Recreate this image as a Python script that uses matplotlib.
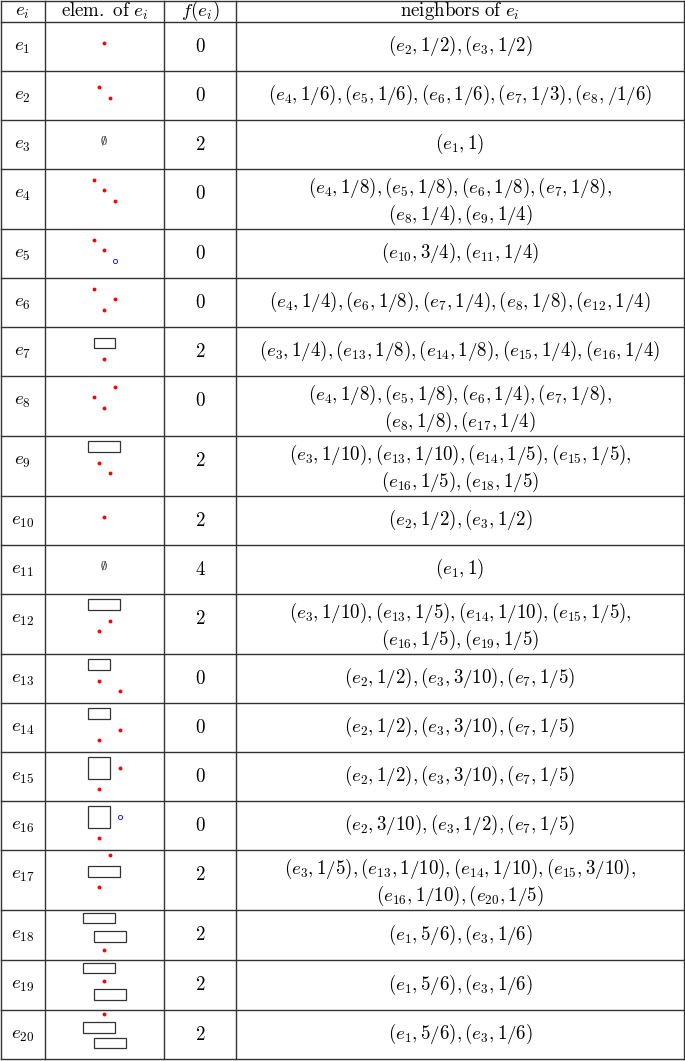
import numpy as np
import matplotlib
matplotlib.use("Agg")
import matplotlib.pyplot as plt
import matplotlib.patches as patches

plt.rcParams['mathtext.fontset'] = 'cm'

# f(e_i) per row
f_values = [0, 0, 2, 0, 0, 0, 2, 0, 2, 2, 4, 2, 0, 0, 0, 0, 2, 2, 2, 2]

# neighbors: (index, weight) pairs, weights kept as printed
neighbors = [
    [(2, '1/2'), (3, '1/2')],
    [(4, '1/6'), (5, '1/6'), (6, '1/6'), (7, '1/3'), (8, '/1/6')],
    [(1, '1')],
    [(4, '1/8'), (5, '1/8'), (6, '1/8'), (7, '1/8'), (8, '1/4'), (9, '1/4')],
    [(10, '3/4'), (11, '1/4')],
    [(4, '1/4'), (6, '1/8'), (7, '1/4'), (8, '1/8'), (12, '1/4')],
    [(3, '1/4'), (13, '1/8'), (14, '1/8'), (15, '1/4'), (16, '1/4')],
    [(4, '1/8'), (5, '1/8'), (6, '1/4'), (7, '1/8'), (8, '1/8'), (17, '1/4')],
    [(3, '1/10'), (13, '1/10'), (14, '1/5'), (15, '1/5'), (16, '1/5'), (18, '1/5')],
    [(2, '1/2'), (3, '1/2')],
    [(1, '1')],
    [(3, '1/10'), (13, '1/5'), (14, '1/10'), (15, '1/5'), (16, '1/5'), (19, '1/5')],
    [(2, '1/2'), (3, '3/10'), (7, '1/5')],
    [(2, '1/2'), (3, '3/10'), (7, '1/5')],
    [(2, '1/2'), (3, '3/10'), (7, '1/5')],
    [(2, '3/10'), (3, '1/2'), (7, '1/5')],
    [(3, '1/5'), (13, '1/10'), (14, '1/10'), (15, '3/10'), (16, '1/10'), (20, '1/5')],
    [(1, '5/6'), (3, '1/6')],
    [(1, '5/6'), (3, '1/6')],
    [(1, '5/6'), (3, '1/6')],
]

# elements of e_i on a unit grid: ('p', x, y) red point, ('o', x, y) blue circle,
# ('b', x0, y0, w, h) box; None = empty set
elements = [
    [('p', 0, 0)],
    [('p', -0.5, 0), ('p', 0.5, 1)],
    None,
    [('p', -1, 0), ('p', 0, 1), ('p', 1, 2)],
    [('p', -1, 0), ('p', 0, 1), ('o', 1, 2)],
    [('p', -1, 0), ('p', 1, 1), ('p', 0, 2)],
    [('b', -1, 0, 2, 1), ('p', 0, 2)],
    [('p', 1, 0), ('p', -1, 1), ('p', 0, 2)],
    [('b', -1.5, 0, 3, 1), ('p', -0.5, 2), ('p', 0.5, 3)],
    [('p', 0, 0)],
    None,
    [('b', -1.5, 0, 3, 1), ('p', 0.5, 2), ('p', -0.5, 3)],
    [('b', -1.5, 0, 2, 1), ('p', -0.5, 2), ('p', 1.5, 3)],
    [('b', -1.5, 0, 2, 1), ('p', 1.5, 2), ('p', -0.5, 3)],
    [('b', -1.5, 0, 2, 2), ('p', 1.5, 1), ('p', -0.5, 3)],
    [('b', -1.5, 0, 2, 2), ('o', 1.5, 1), ('p', -0.5, 3)],
    [('p', 0.5, 0), ('b', -1.5, 1, 3, 1), ('p', -0.5, 3)],
    [('b', -2, 0, 3, 1), ('b', -1, 1.72, 3, 1), ('p', 0, 3.47)],
    [('b', -2, 0, 3, 1), ('p', 0, 1.72), ('b', -1, 2.47, 3, 1)],
    [('p', 0, 0), ('b', -2, 0.71, 3, 1), ('b', -1, 2.16, 3, 1)],
]

headers = [r'$e_i$', r'$\mathrm{elem.\ of}\ e_i$', r'$f(e_i)$',
           r'$\mathrm{neighbors\ of}\ e_i$']

# layout (pixels)
W, H = 685, 1061
col_x = [1, 45, 164, 236, 684]
unit = 10.67
header_h = 21
fs = 13.6
line_c = '#333333'


def pair_text(items):
    return r'$' + r', '.join(r'(e_{%d}, %s)' % (i, w) for i, w in items) + r'$'


def glyph_extent(elem):
    if elem is None:
        return 0, 0
    ys = []
    for it in elem:
        if it[0] == 'b':
            ys += [it[2], it[2] + it[4]]
        else:
            ys.append(it[2])
    return min(ys), max(ys)


fig = plt.figure(figsize=(W / 100, H / 100), dpi=100)
ax = fig.add_axes([0, 0, 1, 1])
ax.set_xlim(0, W)
ax.set_ylim(H, 0)
ax.axis('off')

# row heights
heights = []
for nb, el in zip(neighbors, elements):
    h = 49 if len(nb) <= 5 else 60
    g0, g1 = glyph_extent(el)
    h = max(h, (g1 - g0) * unit + 13)
    heights.append(h)

top = 0.8
row_tops = [top + header_h + sum(heights[:k]) for k in range(len(heights))]
bottom = row_tops[-1] + heights[-1]

# grid lines
ax.plot([col_x[0], col_x[-1]], [top, top], color=line_c, lw=1.0)
ax.plot([col_x[0], col_x[-1]], [top + header_h, top + header_h], color=line_c, lw=1.0)
for rt, h in zip(row_tops, heights):
    ax.plot([col_x[0], col_x[-1]], [rt + h, rt + h], color=line_c, lw=1.0)
for x in col_x:
    ax.plot([x, x], [top, bottom], color=line_c, lw=1.0)

centers = [(col_x[k] + col_x[k + 1]) / 2 for k in range(4)]
centers[0] = 22.5

# header
for cx, t in zip(centers, headers):
    ax.text(cx, top + header_h / 2, t, ha='center', va='center', fontsize=fs)

elem_cx = 104.3
for k, (f, nb, el) in enumerate(zip(f_values, neighbors, elements)):
    rt, h = row_tops[k], heights[k]
    ly = rt + 24.5
    ax.text(centers[0], ly, r'$e_{%d}$' % (k + 1), ha='center', va='center', fontsize=fs)
    ax.text(centers[2], ly, r'$%d$' % f, ha='center', va='center', fontsize=fs)
    if len(nb) <= 5:
        ax.text(centers[3], rt + h / 2, pair_text(nb), ha='center', va='center', fontsize=fs)
    else:
        ax.text(centers[3], rt + 19, pair_text(nb[:4])[:-1] + r',$',
                ha='center', va='center', fontsize=fs)
        ax.text(centers[3], rt + 46.5, pair_text(nb[4:]),
                ha='center', va='center', fontsize=fs)

    # element glyph, centred a little above the row middle
    gc = rt + 21.5
    if el is None:
        ax.text(elem_cx, gc, r'$\emptyset$', ha='center', va='center', fontsize=9)
        continue
    g0, g1 = glyph_extent(el)
    y0 = gc - (g1 - g0) * unit / 2 - g0 * unit
    for it in el:
        if it[0] == 'p':
            ax.plot(elem_cx + it[1] * unit, y0 + it[2] * unit, 'o', ms=2.8,
                    color='red', mew=0)
        elif it[0] == 'o':
            ax.plot(elem_cx + it[1] * unit, y0 + it[2] * unit, 'o', ms=3.0,
                    mfc='none', mec='blue', mew=0.6)
        else:
            ax.add_patch(patches.Rectangle((elem_cx + it[1] * unit, y0 + it[2] * unit),
                                           it[3] * unit, it[4] * unit, fill=False,
                                           ec='#333333', lw=0.9))

plt.savefig('out.png', dpi=100)
